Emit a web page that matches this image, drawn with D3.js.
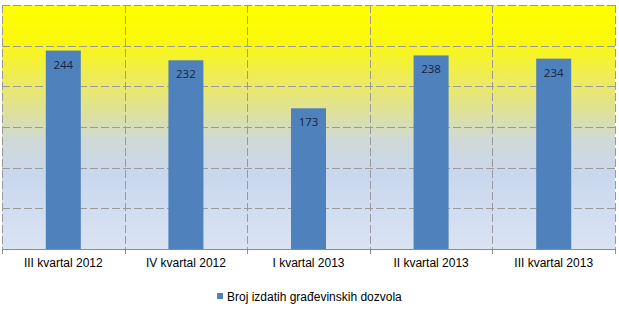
<!DOCTYPE html>
<html><head><meta charset="utf-8">
<script src="https://cdn.jsdelivr.net/npm/d3@7"></script>
<style>html,body{margin:0;padding:0;background:#fff;}svg{display:block;}</style>
</head><body>
<script>
const categories = ["III kvartal 2012","IV kvartal 2012","I kvartal 2013","II kvartal 2013","III kvartal 2013"];
const values = [244,232,173,238,234];
const yTicks = [0,50,100,150,200,250,300];
const seriesName = "Broj izdatih građevinskih dozvola";

const W=619,H=318;
const m={l:2,r:4,t:5,b:69};
const svg=d3.select("body").append("svg").attr("width",W).attr("height",H);
const defs=svg.append("defs");
const g=defs.append("linearGradient").attr("id","bg").attr("x1",0).attr("y1",0).attr("x2",0).attr("y2",1);
[[0,"#ffff00"],[0.14,"#fbf80a"],[0.3,"#eeeb5a"],[0.45,"#dde0a0"],[0.55,"#cfd9d6"],[0.7,"#c9d7ee"],[1,"#d9e3f2"]]
 .forEach(([o,c])=>g.append("stop").attr("offset",o).attr("stop-color",c));

const x=d3.scaleBand().domain(categories).range([m.l,W-m.r]).padding(0);
const y=d3.scaleLinear().domain([0,300]).range([H-m.b,m.t]);

svg.append("rect").attr("x",m.l).attr("y",m.t).attr("width",W-m.r-m.l).attr("height",H-m.b-m.t).attr("fill","url(#bg)");

const gridColor="#9a9a9a";
svg.append("g").selectAll("line").data(yTicks.slice(1)).join("line")
 .attr("x1",m.l).attr("x2",W-m.r).attr("y1",d=>Math.round(y(d))+0.5).attr("y2",d=>Math.round(y(d))+0.5)
 .attr("stroke",gridColor).attr("stroke-dasharray","8,3").attr("stroke-width",1);
const edges=categories.map(c=>x(c)).concat([W-m.r]);
svg.append("g").selectAll("line").data(edges).join("line")
 .attr("x1",d=>Math.round(d)+0.5).attr("x2",d=>Math.round(d)+0.5).attr("y1",m.t).attr("y2",H-m.b)
 .attr("stroke",gridColor).attr("stroke-dasharray","8,3").attr("stroke-width",1);

const bw=35;
svg.append("g").selectAll("rect").data(values).join("rect")
 .attr("x",(d,i)=>x(categories[i])+x.bandwidth()/2-bw/2)
 .attr("y",d=>y(d)).attr("width",bw).attr("height",d=>y(0)-y(d))
 .attr("fill","#4f81bd");

svg.append("g").selectAll("text").data(values).join("text")
 .attr("x",(d,i)=>x(categories[i])+x.bandwidth()/2)
 .attr("y",d=>y(d)+18).attr("text-anchor","middle")
 .attr("font-family","'Open Sans',sans-serif").attr("font-size",11.5).attr("fill","#17243d")
 .text(d=>d);

const ax=svg.append("g").attr("transform",`translate(0,${H-m.b})`)
 .call(d3.axisBottom(x).tickSize(0).tickPadding(9));
ax.select(".domain").attr("stroke","#8c8c8c").attr("d",`M${m.l},0.5H${W-m.r}`);
ax.selectAll("text").attr("font-family","'Liberation Sans',Arial,sans-serif").attr("font-size",12).attr("fill","#000");
ax.append("g").selectAll("line").data(edges).join("line")
 .attr("x1",d=>Math.round(d)+0.5).attr("x2",d=>Math.round(d)+0.5).attr("y1",0).attr("y2",5).attr("stroke","#8c8c8c");

const lg=svg.append("g");
lg.append("rect").attr("x",217).attr("y",293).attr("width",6).attr("height",6).attr("fill","#4f81bd");
lg.append("text").attr("x",227).attr("y",301).attr("font-family","'Liberation Sans',Arial,sans-serif").attr("font-size",12).attr("fill","#000").text(seriesName);
</script>
</body></html>
